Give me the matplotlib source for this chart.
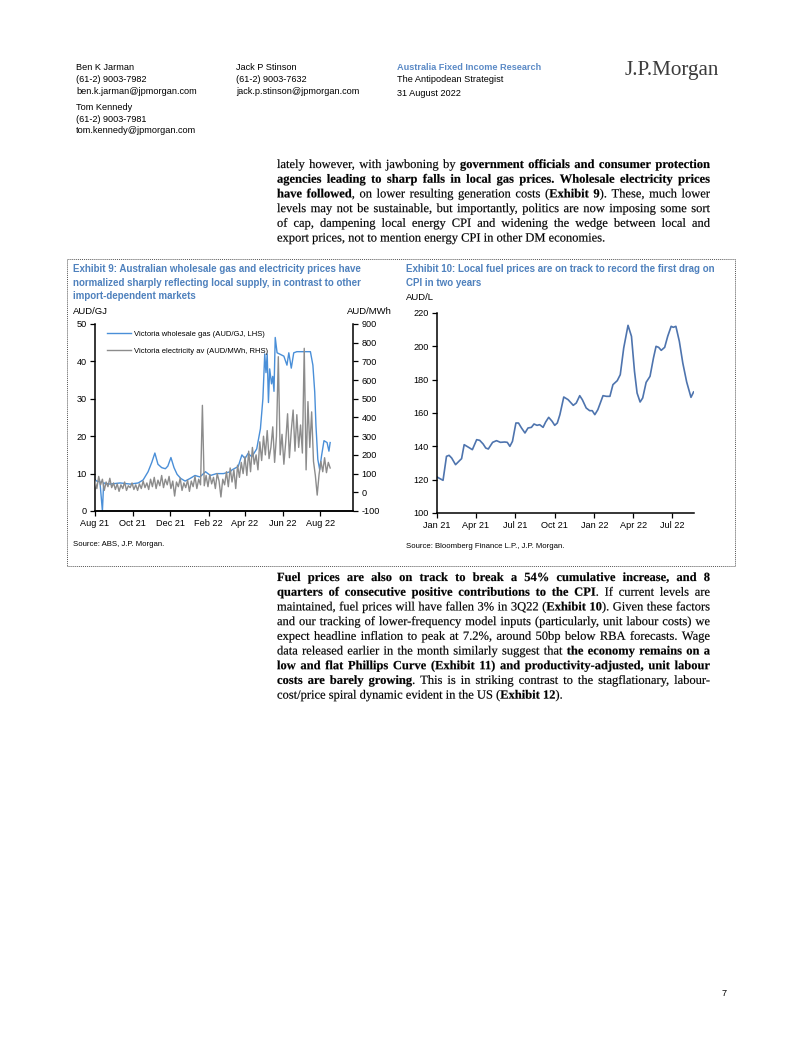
import matplotlib
matplotlib.use("Agg")
import numpy as np
import pandas as pd
import matplotlib.pyplot as plt
import matplotlib.dates as mdates
from matplotlib.patches import Rectangle, PathPatch
from matplotlib.textpath import TextPath
from matplotlib.font_manager import FontProperties
from matplotlib.transforms import Affine2D

plt.rcParams["axes.unicode_minus"] = False

W, H = 802, 1037
SANS = "Liberation Sans"
SERIF = "Liberation Serif"
BLUE_T = "#4F81BD"

# Exhibit 9 data
gas_dates = ['2021-08-01', '2021-08-04', '2021-08-09', '2021-08-13', '2021-08-15', '2021-08-25',
             '2021-09-11', '2021-09-27', '2021-10-10', '2021-10-18', '2021-10-26', '2021-11-01',
             '2021-11-06', '2021-11-11', '2021-11-17', '2021-11-23', '2021-11-27', '2021-12-02',
             '2021-12-07', '2021-12-12', '2021-12-18', '2021-12-25', '2022-01-02', '2022-01-10',
             '2022-01-18', '2022-01-27', '2022-02-04', '2022-02-14', '2022-02-25', '2022-03-08',
             '2022-03-11', '2022-03-21', '2022-03-27', '2022-04-01', '2022-04-06', '2022-04-12',
             '2022-04-20', '2022-04-26', '2022-04-30', '2022-05-03', '2022-05-05', '2022-05-07',
             '2022-05-09', '2022-05-11', '2022-05-14', '2022-05-16', '2022-05-18', '2022-05-20',
             '2022-05-23', '2022-05-28', '2022-06-03', '2022-06-08', '2022-06-11', '2022-06-15',
             '2022-06-19', '2022-06-24', '2022-07-08', '2022-07-16', '2022-07-20', '2022-07-23',
             '2022-07-25', '2022-07-28', '2022-07-31', '2022-08-03', '2022-08-07', '2022-08-12',
             '2022-08-15', '2022-08-17']
gas = [8.3, 8.0, 7.8, 0.0, 7.5, 7.2, 7.5, 7.2, 7.5, 8.3, 10.5, 13.0, 15.5, 12.5, 11.6, 11.3, 12.0,
       14.3, 11.6, 9.8, 8.7, 8.0, 8.7, 9.5, 9.1, 10.5, 9.5, 10.0, 10.0, 10.5, 11.0, 11.9, 15.0, 14.0,
       15.4, 14.5, 16.6, 22.0, 30.0, 42.0, 37.0, 42.0, 29.0, 38.0, 34.0, 36.0, 32.0, 46.4, 42.3, 41.9,
       41.4, 39.0, 42.3, 38.2, 42.3, 42.6, 42.6, 42.6, 39.0, 31.8, 22.8, 13.8, 11.1, 14.7, 18.8, 18.3,
       16.0, 18.3]

elec_start = '2021-08-01'   # every third day
elec = [60, 20, 85, 40, 70, 10, 55, 30, 75, 25, 50,
        15, 45, 5, 40, 20, 55, 10, 35, 25, 50,
        15, 40, 10, 45, 20, 60, 25, 50, 15, 70,
        30, 80, 20, 65, 35, 90, 25, 70, 40, 85,
        20, 60, -20, 55, 30, 75, 10, 50, 25, 65,
        5, 60, 30, 85, 20, 70, 40, 465, 35, 90,
        30, 95, 45, 80, 20, 100, 60, -25, 70, 40,
        110, 30, 130, 55, 120, 20, 145, 80, 160, 100,
        190, 90, 220, 110, 240, 150, 200, 120, 270, 170,
        300, 200, 330, 180, 240, 350, 160, 300, 725, 200,
        310, 150, 270, 420, 185, 330, 440, 220, 415, 240,
        360, 210, 770, 120, 485, 240, 430, 165, 90, -15,
        95, 165, 110, 185, 105, 160, 130]

# Exhibit 10 data
fuel_dates = ['2021-01-01', '2021-01-08', '2021-01-15', '2021-01-23', '2021-01-29', '2021-02-04',
              '2021-02-13', '2021-02-23', '2021-02-27', '2021-03-05', '2021-03-14', '2021-03-24',
              '2021-04-03', '2021-04-10', '2021-04-18', '2021-04-24', '2021-04-30', '2021-05-10',
              '2021-05-19', '2021-05-28', '2021-06-07', '2021-06-13', '2021-06-19', '2021-06-25',
              '2021-07-03', '2021-07-09', '2021-07-16', '2021-07-24', '2021-07-31', '2021-08-08',
              '2021-08-14', '2021-08-21', '2021-08-27', '2021-09-04', '2021-09-10', '2021-09-17',
              '2021-09-25', '2021-10-01', '2021-10-07', '2021-10-13', '2021-10-22', '2021-11-01',
              '2021-11-13', '2021-11-20', '2021-11-28', '2021-12-04', '2021-12-13', '2021-12-21',
              '2021-12-27', '2022-01-02', '2022-01-09', '2022-01-21', '2022-01-29', '2022-02-06',
              '2022-02-13', '2022-02-23', '2022-03-02', '2022-03-10', '2022-03-20', '2022-03-28',
              '2022-04-04', '2022-04-10', '2022-04-17', '2022-04-23', '2022-05-01', '2022-05-10',
              '2022-05-18', '2022-05-24', '2022-05-30', '2022-06-05', '2022-06-13', '2022-06-20',
              '2022-06-28', '2022-07-03', '2022-07-09', '2022-07-17', '2022-07-25', '2022-08-03',
              '2022-08-13', '2022-08-19']
fuel = [121.6, 120.6, 119.6, 134.0, 134.6, 133.0, 129.0, 131.6, 132.6, 141.0, 139.6, 138.0,
        144.0, 143.6, 141.4, 139.0, 138.4, 142.4, 143.4, 142.4, 142.6, 142.4, 140.0, 143.0,
        154.0, 154.0, 151.0, 148.0, 151.0, 151.4, 153.4, 152.6, 153.0, 151.4, 154.6, 157.4,
        155.0, 152.6, 154.0, 159.0, 169.6, 168.0, 164.6, 166.0, 170.4, 168.0, 163.0, 161.4,
        161.4, 159.0, 162.0, 170.4, 170.0, 170.0, 177.0, 179.4, 183.0, 199.0, 212.6, 206.0,
        185.0, 172.0, 166.6, 169.0, 178.4, 182.0, 193.0, 200.0, 199.4, 197.6, 199.4, 206.0,
        212.0, 211.4, 212.0, 203.0, 190.0, 178.6, 169.4, 172.6]

para1 = [
    "lately however, with jawboning by *government officials and consumer protection*",
    "*agencies leading to sharp falls in local gas prices. Wholesale electricity prices*",
    "*have followed*, on lower resulting generation costs (*Exhibit 9*). These, much lower",
    "levels may not be sustainable, but importantly, politics are now imposing some sort",
    "of cap, dampening local energy CPI and widening the wedge between local and",
    "export prices, not to mention energy CPI in other DM economies.",
]
para2 = [
    "*Fuel prices are also on track to break a 54% cumulative increase, and 8*",
    "*quarters of consecutive positive contributions to the CPI*. If current levels are",
    "maintained, fuel prices will have fallen 3% in 3Q22 (*Exhibit 10*). Given these factors",
    "and our tracking of lower-frequency model inputs (particularly, unit labour costs) we",
    "expect headline inflation to peak at 7.2%, around 50bp below RBA forecasts. Wage",
    "data released earlier in the month similarly suggest that *the economy remains on a*",
    "*low and flat Phillips Curve (Exhibit 11) and productivity-adjusted, unit labour*",
    "*costs are barely growing*. This is in striking contrast to the stagflationary, labour-",
    "cost/price spiral dynamic evident in the US (*Exhibit 12*).",
]

fig = plt.figure(figsize=(W / 100, H / 100), dpi=100)

# page overlay in pixel units (y down) for the body text
page = fig.add_axes([0, 0, 1, 1])
page.set_xlim(0, W)
page.set_ylim(H, 0)
page.axis("off")


def P(x, y):
    return x / W, 1 - y / H


def txt(x, y, s, **kw):
    kw.setdefault("family", SANS)
    kw.setdefault("fontsize", 6.6)
    kw.setdefault("va", "center")
    return fig.text(*P(x, y), s, **kw)


# header
for i, s in enumerate(["Ben K Jarman", "(61-2) 9003-7982", "ben.k.jarman@jpmorgan.com"]):
    txt(76, 67 + 12 * i, s)
for i, s in enumerate(["Tom Kennedy", "(61-2) 9003-7981", "tom.kennedy@jpmorgan.com"]):
    txt(76, 107 + 12 * i, s)
for i, s in enumerate(["Jack P Stinson", "(61-2) 9003-7632", "jack.p.stinson@jpmorgan.com"]):
    txt(236, 67 + 12 * i, s)
txt(397, 67, "Australia Fixed Income Research", color="#5B8AC6", weight="bold")
txt(397, 79, "The Antipodean Strategist")
txt(397, 93, "31 August 2022")
txt(625, 71, "J.P.Morgan", family=SERIF, fontsize=15.2, color="#3c3c3c")
txt(722, 993, "7")


# justified body text, drawn as glyph paths so spacing is sub-pixel exact
BODY_PX = 9.0 * 100 / 72
PROPS = {False: FontProperties(family=SERIF), True: FontProperties(family=SERIF, weight="bold")}
_wcache = {}


def adv_w(s, bold):
    key = (s, bold)
    if key not in _wcache:
        p = PROPS[bold]
        a = TextPath((0, 0), "|" + s + "|", size=BODY_PX, prop=p).get_extents().width
        b = TextPath((0, 0), "||", size=BODY_PX, prop=p).get_extents().width
        _wcache[key] = a - b
    return _wcache[key]


def draw_word(x, y, s, bold):
    path = TextPath((0, 0), s, size=BODY_PX, prop=PROPS[bold])
    tr = Affine2D().scale(1, -1).translate(x, y) + page.transData
    page.add_patch(PathPatch(path, transform=tr, fc="black", ec="black", lw=0.12))


def parse(line):
    tokens, cur, buf, bold = [], [], "", False
    for ch in line:
        if ch == "*":
            if buf:
                cur.append((buf, bold))
                buf = ""
            bold = not bold
        elif ch == " ":
            if buf:
                cur.append((buf, bold))
                buf = ""
            if cur:
                tokens.append(cur)
                cur = []
        else:
            buf += ch
    if buf:
        cur.append((buf, bold))
    if cur:
        tokens.append(cur)
    return tokens


def paragraph(lines, x0, x1, y0, dy):
    space_w = adv_w(" ", False)
    for n, line in enumerate(lines):
        y = y0 + n * dy + 4
        toks = parse(line)
        widths = [sum(adv_w(s, b) for s, b in tok) for tok in toks]
        last = n == len(lines) - 1
        gap = space_w if last else (x1 - x0 - sum(widths)) / (len(toks) - 1)
        x = x0
        for tok, w in zip(toks, widths):
            xx = x
            for s, b in tok:
                draw_word(xx, y, s, b)
                xx += adv_w(s, b)
            x += w + gap


paragraph(para1, 277, 710, 164, 14.7)
paragraph(para2, 277, 710, 577, 14.7)

# dotted exhibit box
fig.add_artist(Rectangle(P(67, 566), 668 / W, 307 / H, transform=fig.transFigure,
                         fill=False, ls=(0, (1, 1)), lw=0.7, ec="#555555"))

# exhibit titles
TFS = 7.0
for i, s in enumerate(["Exhibit 9: Australian wholesale gas and electricity prices have",
                       "normalized sharply reflecting local supply, in contrast to other",
                       "import-dependent markets"]):
    txt(73, 269 + 13.5 * i, s, fontsize=TFS, weight="bold", color=BLUE_T)
for i, s in enumerate(["Exhibit 10: Local fuel prices are on track to record the first drag on",
                       "CPI in two years"]):
    txt(406, 269 + 13.5 * i, s, fontsize=TFS, weight="bold", color=BLUE_T)
txt(73, 311, "AUD/GJ", fontsize=6.8)
txt(392, 311, "AUD/MWh", fontsize=6.8, ha="right")
txt(406, 297, "AUD/L", fontsize=6.8)
txt(73, 545, "Source: ABS, J.P. Morgan.", fontsize=5.6)
txt(406, 547, "Source: Bloomberg Finance L.P., J.P. Morgan.", fontsize=5.6)


def style(ax, left=True, right=False):
    for side in ["top", "right", "left"]:
        ax.spines[side].set_visible(False)
    if left:
        ax.spines["left"].set_visible(True)
    if right:
        ax.spines["right"].set_visible(True)
    for sp in ax.spines.values():
        sp.set_linewidth(1.1)
    ax.tick_params(direction="out", length=3.5, width=0.9, labelsize=6.6, pad=2.5)
    for lab in ax.get_xticklabels() + ax.get_yticklabels():
        lab.set_family(SANS)


# Exhibit 9 chart
ax1 = fig.add_axes([95 / W, 1 - 511 / H, 258 / W, 187 / H])
gas_x = pd.to_datetime(gas_dates)
elec_x = pd.date_range(elec_start, periods=len(elec), freq="3D")
l1, = ax1.plot(gas_x, gas, color="#4A8FD8", lw=1.0)
ax1.set_ylim(0, 50)
ax1.set_yticks(np.arange(0, 51, 10))
ax1.set_xlim(pd.Timestamp("2021-08-01"), pd.Timestamp("2022-09-23"))
ax1.set_xticks(pd.date_range("2021-08-01", "2022-08-01", freq="2MS"))
ax1.xaxis.set_major_formatter(mdates.DateFormatter("%b %y"))
ax2 = ax1.twinx()
l2, = ax2.plot(elec_x, elec, color="#8C8C8C", lw=1.0)
ax2.set_ylim(-100, 900)
ax2.set_yticks(np.arange(-100, 901, 100))
style(ax1)
style(ax2, left=False, right=True)
ax2.legend([l1, l2], ["Victoria wholesale gas (AUD/GJ, LHS)", "Victoria electricity av (AUD/MWh, RHS)"],
           loc="upper left", bbox_to_anchor=(0.0465, 0.964), frameon=False, handlelength=3.1,
           handletextpad=0.4, labelspacing=1.25, prop={"family": SANS, "size": 5.5},
           borderaxespad=0, borderpad=0)

# Exhibit 10 chart
ax3 = fig.add_axes([437 / W, 1 - 513 / H, 257 / W, 200 / H])
ax3.plot(pd.to_datetime(fuel_dates), fuel, color="#4E74AE", lw=1.2)
ax3.set_ylim(100, 220)
ax3.set_yticks(np.arange(100, 221, 20))
ax3.set_xlim(pd.Timestamp("2021-01-01"), pd.Timestamp("2022-08-20"))
ax3.set_xticks(pd.date_range("2021-01-01", "2022-07-01", freq="3MS"))
ax3.xaxis.set_major_formatter(mdates.DateFormatter("%b %y"))
style(ax3)

fig.savefig("out.png", dpi=100)
